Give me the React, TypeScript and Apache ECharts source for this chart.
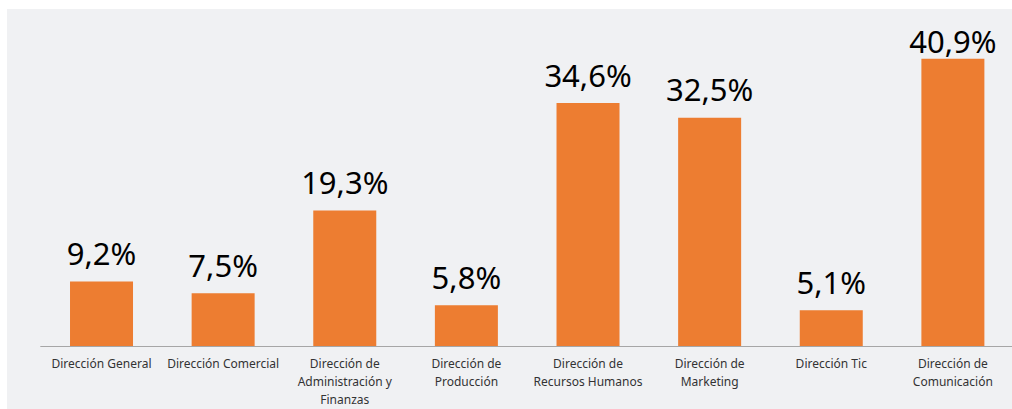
import React, { useEffect, useRef } from "react";
import * as echarts from "echarts";

const categories = [
  "Dirección General",
  "Dirección Comercial",
  "Dirección de\nAdministración y\nFinanzas",
  "Dirección de\nProducción",
  "Dirección de\nRecursos Humanos",
  "Dirección de\nMarketing",
  "Dirección Tic",
  "Dirección de\nComunicación",
];
const values = [9.2, 7.5, 19.3, 5.8, 34.6, 32.5, 5.1, 40.9];

export default function App() {
  const ref = useRef<HTMLDivElement>(null);
  useEffect(() => {
    if (!ref.current) return;
    const chart = echarts.init(ref.current, undefined, { renderer: "svg" });
    const maxVal = Math.max(...values);
    chart.setOption({
      animation: false,
      backgroundColor: "#f0f1f3",
      grid: { left: 33.7, right: 3.3, top: 21, bottom: 63, containLabel: false },
      xAxis: {
        type: "category",
        data: categories,
        axisLine: { lineStyle: { color: "#a6a6a6", width: 1 } },
        axisTick: { show: false },
        axisLabel: {
          interval: 0,
          color: "#333333",
          fontFamily: "Noto Sans",
          fontSize: 12,
          lineHeight: 18,
          margin: 8,
        },
      },
      yAxis: {
        type: "value",
        min: 0,
        max: 45,
        show: false,
        splitLine: { show: false },
      },
      series: [
        {
          type: "bar",
          data: values.map((v) =>
            v === maxVal ? { value: v, label: { distance: 2 } } : { value: v }
          ),
          barWidth: 63,
          itemStyle: { color: "#ed7d31" },
          label: {
            show: true,
            position: "top",
            distance: 13,
            color: "#000000",
            fontFamily: "Noto Sans",
            fontSize: 31,
            lineHeight: 31,
            formatter: (p: any) => p.value.toFixed(1).replace(".", ",") + "%",
          },
        },
      ],
    });
    return () => chart.dispose();
  }, []);
  return (
    <div
      style={{
        position: "fixed",
        left: 0,
        top: 0,
        width: 1012,
        height: 409,
        overflow: "hidden",
        background: "#ffffff",
      }}
    >
      <div
        ref={ref}
        style={{ position: "absolute", left: 7, top: 9, width: 1010, height: 400 }}
      />
    </div>
  );
}
